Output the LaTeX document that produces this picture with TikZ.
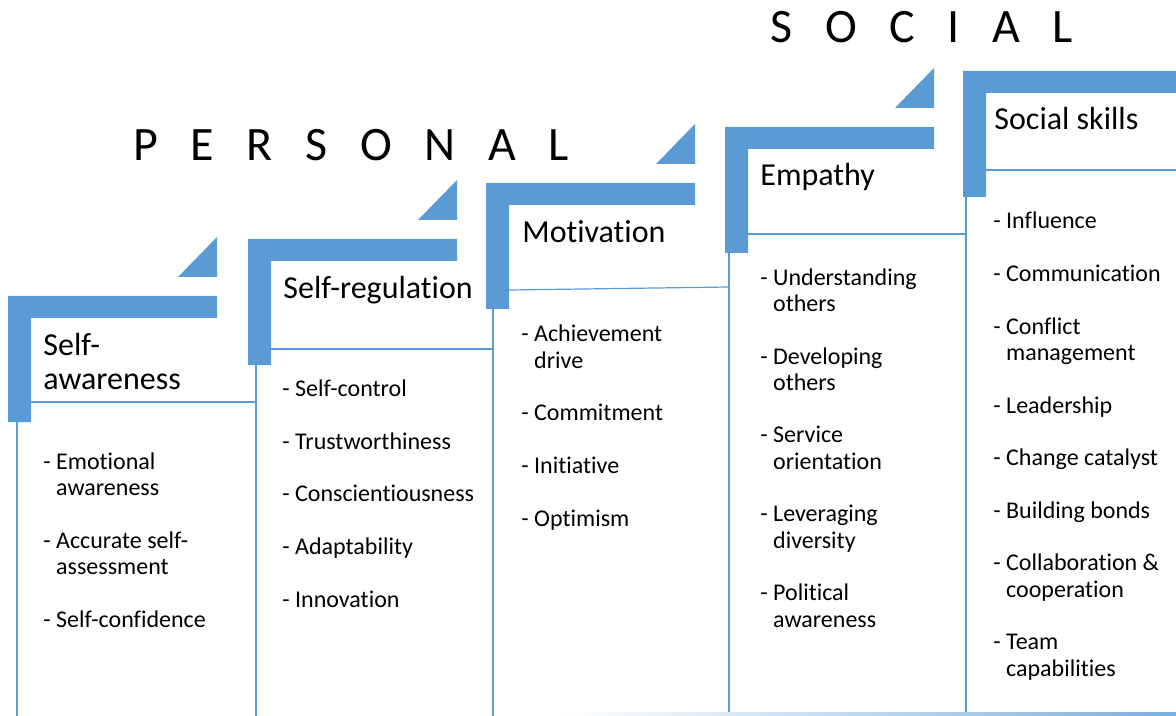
\documentclass[tikz,border=0pt]{standalone}
\usepackage{fontspec}
\setmainfont{Carlito}[Ligatures=NoCommon]
\usetikzlibrary{positioning}
\definecolor{StairBlue}{HTML}{5B9BD5}
\newcommand{\lsp}{\hspace{0.68em}}
\newcommand{\cont}{\phantom{- }}
\newcommand{\nextitem}{\\[13.15pt]}

\begin{document}
\begin{tikzpicture}[
  x=0.5pt,y=-0.5pt,
  bar/.style={fill=StairBlue},
  rule/.style={draw=StairBlue,line width=0.6pt},
  banner/.style={font=\fontsize{24}{28}\selectfont,anchor=base west,inner sep=0pt},
  % multi-line nodes sit on the baseline of their last line
  head/.style={font=\fontsize{16}{17}\selectfont,anchor=base west,inner sep=0pt,align=left},
  items/.style={font=\fontsize{12}{13.15}\selectfont,anchor=base west,inner sep=0pt,align=left},
  stair/.pic={
    \fill[bar] (0,0) -- (209,0) -- (209,22) -- (23,22) -- (23,126) -- (0,126) -- cycle;
    \fill[bar] (209,-59) -- (209,-19) -- (170,-19) -- cycle;
  },
]
\useasboundingbox (0,0) rectangle (1176,716);

% the four stairs with their corner triangles, the last one runs off the edge
\pic at (8,296) {stair};
\pic at (248,239) {stair};
\pic at (486,183) {stair};
\pic at (725,127) {stair};
\fill[bar] (963,71) -- (1176,71) -- (1176,93) -- (986,93) -- (986,197) -- (963,197) -- cycle;

% thin column rules
\draw[rule] (17,422) -- (17,716);
\draw[rule] (256,365) -- (256,716);
\draw[rule] (493,309) -- (493,716);
\draw[rule] (729,253) -- (729,716);
\draw[rule] (966,197) -- (966,712);
\draw[rule] (31,402) -- (256,402);
\draw[rule] (271,349) -- (493,349);
\draw[rule] (509,290) -- (729,287);
\draw[rule] (747,234) -- (966,234);
\draw[rule] (986,170) -- (1176,170);
\shade[left color=white,right color=StairBlue!80] (560,712) rectangle (1176,715);

% group labels
\node[banner] (personal) at (133,161) {P\lsp E\lsp R\lsp S\lsp O\lsp N\lsp A\lsp L};
\node[banner] (social) at (770,43) {S\lsp O\lsp C\lsp I\lsp A\lsp L};

% step titles
\node[head] (selfaw) at (43,389) {Self-\\awareness};
\node[head] (selfreg) at (283,299) {Self-regulation};
\node[head] (motiv) at (522,243) {Motivation};
\node[head] (empathy) at (760,186) {Empathy};
\node[head] (social skills) at (994,130) {Social skills};

% competences under each step
\node[items] (selfaw list) at (43,627)
  {- Emotional\\\cont awareness\nextitem
   - Accurate self-\\\cont assessment\nextitem
   - Self-confidence};
\node[items] (selfreg list) at (282,607)
  {- Self-control\nextitem
   - Trustworthiness\nextitem
   - Conscientiousness\nextitem
   - Adaptability\nextitem
   - Innovation};
\node[items] (motiv list) at (521,526)
  {- Achievement\\\cont drive\nextitem
   - Commitment\nextitem
   - Initiative\nextitem
   - Optimism};
\node[items] (empathy list) at (760,627)
  {- Understanding\\\cont others\nextitem
   - Developing\\\cont others\nextitem
   - Service\\\cont orientation\nextitem
   - Leveraging\\\cont diversity\nextitem
   - Political\\\cont awareness};
\node[items] (social list) at (993,676)
  {- Influence\nextitem
   - Communication\nextitem
   - Conflict\\\cont management\nextitem
   - Leadership\nextitem
   - Change catalyst\nextitem
   - Building bonds\nextitem
   - Collaboration \&\\\cont cooperation\nextitem
   - Team\\\cont capabilities};
\end{tikzpicture}
\end{document}
